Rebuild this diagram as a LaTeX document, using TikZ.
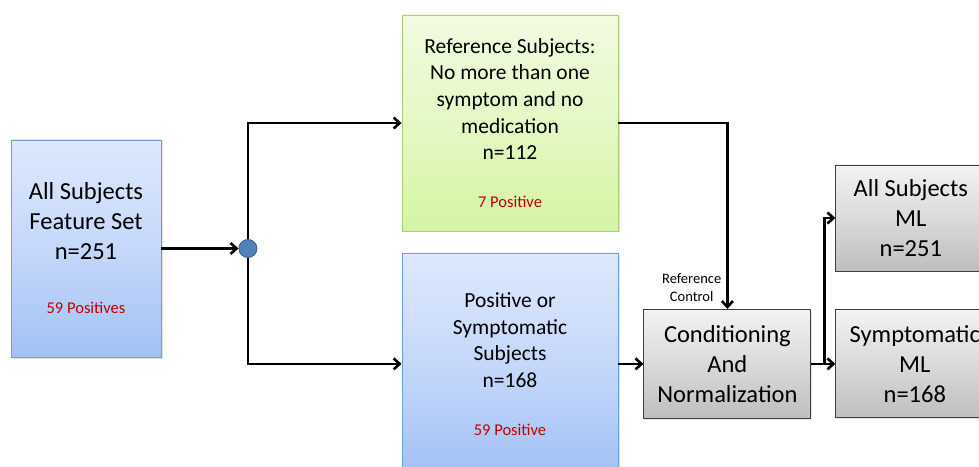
\documentclass[tikz,border=0pt]{standalone}
\usepackage{fontspec}
\setmainfont{Carlito}
\usetikzlibrary{positioning, shapes.geometric, arrows, arrows.meta, shadows}
\definecolor{boxblue}{HTML}{6E9ED8}
\definecolor{boxgreen}{HTML}{A9CF7E}
\definecolor{boxgray}{HTML}{3F3F3F}
\definecolor{dotblue}{HTML}{4F81BD}
\definecolor{posred}{HTML}{C00000}
\tikzstyle{box} = [rectangle, align=center, inner sep=2pt, drop shadow={opacity=0.22, shadow xshift=1.5pt, shadow yshift=-1.5pt}]
\tikzstyle{bluebox} = [box, draw=boxblue, line width=0.9pt, top color={rgb,255:red,221;green,232;blue,252}, bottom color={rgb,255:red,163;green,193;blue,245}, middle color={rgb,255:red,197;green,216;blue,250}]
\tikzstyle{greenbox} = [box, draw=boxgreen, line width=0.9pt, top color={rgb,255:red,242;green,251;blue,226}, bottom color={rgb,255:red,212;green,244;blue,164}, middle color={rgb,255:red,228;green,248;blue,196}]
\tikzstyle{graybox} = [box, draw=boxgray, line width=0.9pt, top color={rgb,255:red,242;green,242;blue,242}, bottom color={rgb,255:red,190;green,190;blue,190}, middle color={rgb,255:red,218;green,218;blue,218}]
\tikzstyle{junction} = [circle, fill=dotblue, draw=dotblue!75!black, line width=0.9pt, minimum size=18pt, inner sep=0pt]
\tikzstyle{arrow} = [line width=2.6pt, -{Straight Barb[length=6pt, width=11pt]}]
\newcommand{\bigtext}{\fontsize{24.5}{30}\selectfont}
\newcommand{\midtext}{\fontsize{21.5}{26.7}\selectfont}
\newcommand{\redtext}[1]{{\fontsize{16.5}{19}\selectfont\color{posred}#1}}

\begin{document}
\begin{tikzpicture}[x=1pt, y=1pt]
\useasboundingbox (0,0) rectangle (979,466);
\clip (0,0) rectangle (979,466);

%Nodes
\node (allfeat) [bluebox, minimum width=150pt, minimum height=217pt, font=\bigtext] at (86,217.5) {All Subjects\\Feature Set\\n=251\\[24pt]\redtext{59 Positives}};
\node (junc) [junction, right=77pt of allfeat] {};
\node (refsubj) [greenbox, minimum width=216pt, minimum height=216pt, font=\midtext] at (510,343) {Reference Subjects:\\No more than one\\symptom and no\\medication\\n=112\\[21pt]\redtext{7 Positive}};
\node (possymp) [bluebox, minimum width=216pt, minimum height=220pt, font=\midtext, below=22pt of refsubj] {Positive or\\Symptomatic\\Subjects\\n=168\\[21pt]\redtext{59 Positive}};
\node (cond) [graybox, minimum width=167pt, minimum height=109pt, font=\bigtext, right=25pt of possymp] {Conditioning\\And\\Normalization};
\node (sympml) [graybox, minimum width=158pt, minimum height=108pt, font=\bigtext, right=24pt of cond] {Symptomatic\\ML\\n=168};
\node (allml) [graybox, minimum width=150pt, minimum height=106pt, font=\bigtext, above=38pt of sympml.north west, anchor=south west] {All Subjects\\ML\\n=251};
\node (refctrl) [anchor=south east, align=center, font=\fontsize{14.5}{18}\selectfont, inner sep=0pt, xshift=-6pt, yshift=7pt] at (cond.north) {Reference\\Control};
\coordinate [right=13pt of cond.east] (split);

%Arrows
\draw [arrow] (allfeat.east) -- (junc.west);
\draw [arrow] (junc.north) |- (refsubj.west);
\draw [arrow] (junc.south) |- (possymp.west);
\draw [arrow] (refsubj.east) -| (cond.north);
\draw [arrow] (possymp.east) -- (cond.west);
\draw [arrow] (cond.east) -- (sympml.west);
\draw [arrow] (cond.east) -- (split) |- (allml.west);

\end{tikzpicture}
\end{document}
